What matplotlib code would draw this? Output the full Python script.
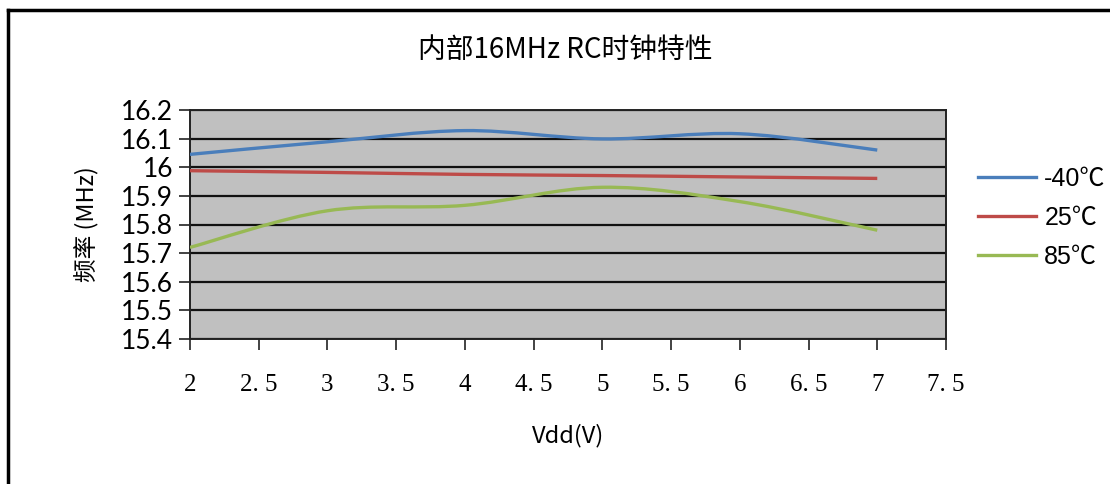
import numpy as np
import matplotlib
matplotlib.use('Agg')
import matplotlib.pyplot as plt
from matplotlib.path import Path
from matplotlib.patches import PathPatch
from matplotlib.lines import Line2D

# data
vdd = [2, 3, 4, 5, 6, 7]
f_m40 = [16.045, 16.089, 16.128, 16.099, 16.117, 16.060]
f_25 = [15.988, 15.982, 15.975, 15.971, 15.966, 15.961]
f_85 = [15.720, 15.848, 15.867, 15.930, 15.880, 15.780]
series_names = ['-40℃', '25℃', '85℃']
series_colors = ['#4A7EBB', '#BE4B48', '#98B954']
x_ticks = [2, 2.5, 3, 3.5, 4, 4.5, 5, 5.5, 6, 6.5, 7, 7.5]
x_ticklabels = ['2', '2. 5', '3', '3. 5', '4', '4. 5', '5', '5. 5', '6', '6. 5', '7', '7. 5']
y_ticks = [15.4, 15.5, 15.6, 15.7, 15.8, 15.9, 16.0, 16.1, 16.2]
y_ticklabels = ['15.4', '15.5', '15.6', '15.7', '15.8', '15.9', '16', '16.1', '16.2']

cjk = ['Noto Sans CJK SC', 'DejaVu Sans']


def smooth_path(xs, ys):
    # excel-like smoothed line: cubic bezier through the points
    xs = np.asarray(xs, float)
    ys = np.asarray(ys, float)
    n = len(xs)
    verts = [(xs[0], ys[0])]
    codes = [Path.MOVETO]
    for i in range(n - 1):
        p0 = (xs[max(i - 1, 0)], ys[max(i - 1, 0)])
        p1 = (xs[i], ys[i])
        p2 = (xs[i + 1], ys[i + 1])
        p3 = (xs[min(i + 2, n - 1)], ys[min(i + 2, n - 1)])
        c1 = (p1[0] + (p2[0] - p0[0]) / 6, p1[1] + (p2[1] - p0[1]) / 6)
        c2 = (p2[0] - (p3[0] - p1[0]) / 6, p2[1] - (p3[1] - p1[1]) / 6)
        verts += [c1, c2, p2]
        codes += [Path.CURVE4] * 3
    return Path(verts, codes)


W, H = 1110, 484
fig = plt.figure(figsize=(W / 100, H / 100), dpi=100)
ax = fig.add_axes([190 / W, 1 - 339 / H, (946 - 190) / W, (339 - 110) / H])
ax.set_facecolor('#C0C0C0')

for ys, c in zip([f_m40, f_25, f_85], series_colors):
    ax.add_patch(PathPatch(smooth_path(vdd, ys), facecolor='none', edgecolor=c,
                           lw=2.4, capstyle='butt', zorder=3))

ax.set_xlim(2, 7.5)
ax.set_ylim(15.4, 16.2)
ax.set_xticks(x_ticks)
ax.set_xticklabels(x_ticklabels, family='Liberation Serif', fontsize=18)
ax.set_yticks(y_ticks)
ax.set_yticklabels(y_ticklabels, family='Lato', fontsize=19)
ax.tick_params(axis='x', length=8, width=1.2, pad=17, color='#222222')
ax.tick_params(axis='y', length=8, width=1.2, pad=4, color='#222222')
ax.grid(axis='y', color='#111111', lw=1.6)
ax.set_axisbelow(True)
for s in ax.spines.values():
    s.set_color('#222222')
    s.set_linewidth(1.4)

ax.set_ylabel('频率 (MHz)', family=cjk, fontsize=17, labelpad=16)
ax.set_xlabel('Vdd(V)', family=cjk, fontsize=17, labelpad=20)
fig.text(565 / W, 1 - 50 / H, '内部16MHz RC时钟特性', family=cjk, fontsize=20,
         ha='center', va='center')

handles = [Line2D([], [], color=c, lw=2.4) for c in series_colors]
fig.legend(handles, series_names, loc='upper left', bbox_to_anchor=(968 / W, 1 - 157 / H),
           frameon=False, prop={'family': ['Liberation Sans', 'Noto Sans CJK SC'], 'size': 18},
           handlelength=2.3, handletextpad=0.35, labelspacing=0.6, borderaxespad=0)

# chart frame (only top and left edges are in view)
fig.add_artist(Line2D([8 / W, 8 / W], [0, 1 - 10 / H], color='black', lw=2.5))
fig.add_artist(Line2D([8 / W, 1], [1 - 10 / H, 1 - 10 / H], color='black', lw=2.5))

fig.savefig('out.png', dpi=100)
